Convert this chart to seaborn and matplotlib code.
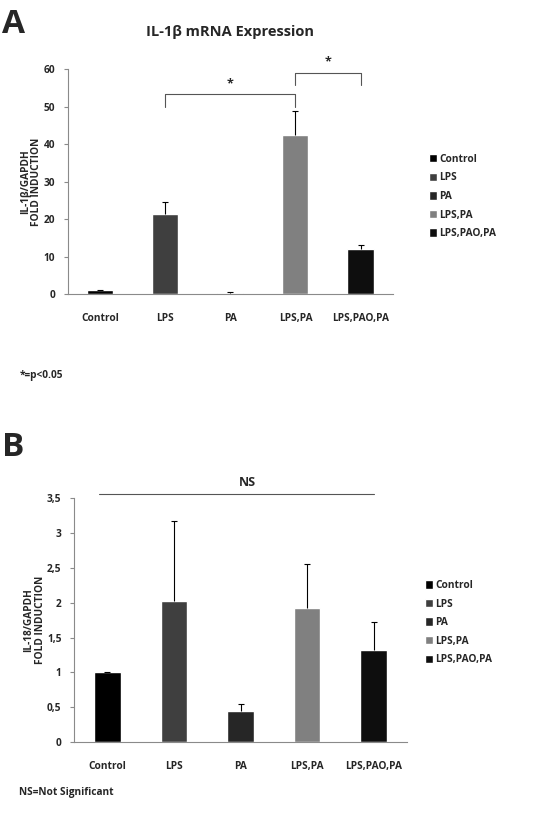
import matplotlib
matplotlib.use("Agg")
import matplotlib.pyplot as plt
import seaborn as sns

# data
groups = ["Control", "LPS", "PA", "LPS,PA", "LPS,PAO,PA"]
il1b_mean = [1.0, 21.5, 0.3, 42.5, 12.0]
il1b_err = [0.0, 3.2, 0.2, 6.5, 1.0]
il18_mean = [1.0, 2.02, 0.44, 1.93, 1.32]
il18_err = [0.0, 1.16, 0.11, 0.62, 0.40]
il18_ticks = [0, 0.5, 1, 1.5, 2, 2.5, 3, 3.5]
il18_ticklabels = ["0", "0,5", "1", "1,5", "2", "2,5", "3", "3,5"]
bar_colors = ["#000000", "#3f3f3f", "#262626", "#808080", "#0e0e0e"]

sns.set_style("white")
plt.rcParams["font.family"] = ["Open Sans", "DejaVu Sans"]
plt.rcParams["font.weight"] = "bold"
FS = 7.3

fig = plt.figure(figsize=(5.34, 8.26), dpi=100)
axA = fig.add_axes([0.127, 0.644, 0.609, 0.272])
axB = fig.add_axes([0.1386, 0.1017, 0.6236, 0.295])


def draw_panel(ax, means, errs, ylabel):
    sns.barplot(x=groups, y=means, hue=groups, palette=bar_colors, width=0.4,
                ax=ax, legend=True, saturation=1)
    eb = ax.errorbar(range(len(groups)), means, yerr=[[0] * len(errs), errs],
                     fmt="none", ecolor="black", elinewidth=0.8, capsize=2, capthick=0.8)
    eb[1][0].set_visible(False)  # no lower caps
    ax.set_xlim(-0.5, 4.5)
    for s in ["top", "right"]:
        ax.spines[s].set_visible(False)
    for s in ["left", "bottom"]:
        ax.spines[s].set_color("#8a8a8a")
        ax.spines[s].set_linewidth(0.8)
    ax.tick_params(axis="y", left=True, length=3, color="#8a8a8a", labelsize=FS, pad=6)
    ax.tick_params(axis="x", bottom=False, labelsize=FS, pad=10)
    for lab in ax.get_xticklabels() + ax.get_yticklabels():
        lab.set_fontweight("bold")
    ax.set_ylabel(ylabel, fontsize=FS, fontweight="bold", labelpad=1, linespacing=1.0)
    handles, labels = ax.get_legend_handles_labels()
    ax.legend_.remove()
    return handles, labels


# ---- panel A
h, l = draw_panel(axA, il1b_mean, il1b_err, "IL-1β/GAPDH\nFOLD INDUCTION")
axA.set_ylim(0, 60)
axA.set_yticks(range(0, 61, 10))
axA.set_title("IL-1β mRNA Expression", fontsize=10.5, fontweight="bold", pad=24)
fig.legend(h, l, loc="upper left", bbox_to_anchor=(0.793, 0.82), frameon=False,
           fontsize=FS, handlelength=0.8, handleheight=0.9, handletextpad=0.25,
           labelspacing=0.75, borderpad=0)

# significance brackets
axA.plot([1, 1, 3, 3], [50, 53.3, 53.3, 50], color="#555555", lw=0.8, clip_on=False)
axA.text(2, 54.5, "*", ha="center", va="bottom", fontsize=9, fontweight="bold")
axA.plot([3, 3, 4, 4], [55.7, 59, 59, 55.7], color="#555555", lw=0.8, clip_on=False)
axA.text(3.5, 60.2, "*", ha="center", va="bottom", fontsize=9, fontweight="bold")

fig.text(0.003, 0.99, "A", fontsize=24, fontweight="bold", va="top", ha="left")
fig.text(0.037, 0.545, "*=p<0.05", fontsize=FS, fontweight="bold", va="center")

# ---- panel B
h, l = draw_panel(axB, il18_mean, il18_err, "IL-18/GAPDH\nFOLD INDUCTION")
axB.set_ylim(0, 3.5)
axB.set_yticks(il18_ticks)
axB.set_yticklabels(il18_ticklabels)
for lab in axB.get_yticklabels():
    lab.set_fontweight("bold")
fig.legend(h, l, loc="upper left", bbox_to_anchor=(0.786, 0.304), frameon=False,
           fontsize=FS, handlelength=0.8, handleheight=0.9, handletextpad=0.25,
           labelspacing=0.75, borderpad=0)

axB.plot([-0.12, 4.0], [3.56, 3.56], color="#555555", lw=0.8, clip_on=False)
axB.text(2.1, 3.63, "NS", ha="center", va="bottom", fontsize=9, fontweight="bold")

fig.text(0.003, 0.478, "B", fontsize=24, fontweight="bold", va="top", ha="left")
fig.text(0.035, 0.041, "NS=Not Significant", fontsize=FS, fontweight="bold", va="center")

fig.savefig("out.png", dpi=100)
